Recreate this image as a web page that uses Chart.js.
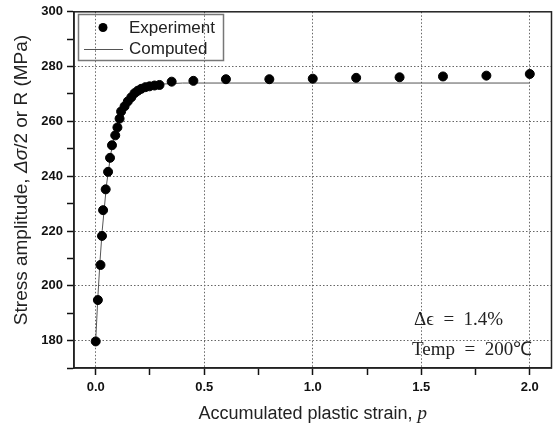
<!DOCTYPE html>
<html><head><meta charset="utf-8">
<script src="https://cdn.jsdelivr.net/npm/chart.js@4"></script>
<style>html,body{margin:0;padding:0;background:#fff}#wrap{width:557px;height:427px}</style>
</head><body><div id="wrap"><canvas id="c" width="557" height="427"></canvas></div>
<script>
// Experiment: accumulated plastic strain p vs stress amplitude (MPa)
const expP = [0.0, 0.01, 0.022, 0.029, 0.034, 0.046, 0.057, 0.066, 0.075, 0.09, 0.10, 0.11, 0.117, 0.133, 0.148, 0.164, 0.179, 0.194, 0.21, 0.229, 0.248, 0.271, 0.294, 0.35, 0.45, 0.6, 0.8, 1.0, 1.2, 1.4, 1.6, 1.8, 2.0];
const expS = [179.7, 194.8, 207.6, 218.2, 227.6, 235.2, 241.6, 246.7, 251.3, 254.9, 257.8, 261.0, 263.6, 265.5, 267.3, 268.8, 270.3, 271.2, 271.9, 272.5, 272.8, 273.1, 273.3, 274.5, 274.8, 275.4, 275.4, 275.6, 275.9, 276.1, 276.4, 276.7, 277.3];
// Computed curve (R)
const compP = [0.0, 0.01, 0.02, 0.03, 0.05, 0.07, 0.10, 0.13, 0.16, 0.20, 0.25, 0.30, 0.40, 0.60, 1.0, 1.5, 2.0];
const compS = [180.0, 196.0, 209.2, 220.2, 237.0, 248.4, 259.4, 265.6, 269.2, 271.7, 273.1, 273.6, 274.0, 274.0, 274.0, 274.0, 274.0];
// Tick values
const xTicks = [0, 0.25, 0.5, 0.75, 1.0, 1.25, 1.5, 1.75, 2.0];
const xLabels = ['0.0', '', '0.5', '', '1.0', '', '1.5', '', '2.0'];
const yTicks = [170, 180, 190, 200, 210, 220, 230, 240, 250, 260, 270, 280, 290, 300];
const yLabels = ['', '180', '', '200', '', '220', '', '240', '', '260', '', '280', '', '300'];
const seriesNames = ['Experiment', 'Computed'];
const notes = ['\u0394\u03f5  =  1.4%', 'Temp  =  200\u2103'];

const expData = expP.map((p, i) => ({x: p, y: expS[i]}));
const compData = compP.map((p, i) => ({x: p, y: compS[i]}));

const SANS = '"Liberation Sans", Arial, sans-serif';
const SERIF = '"Liberation Serif", "Times New Roman", serif';

const extras = {
  id: 'extras',
  afterDraw(chart) {
    const ctx = chart.ctx, a = chart.chartArea;
    ctx.save();
    // frame
    ctx.strokeStyle = '#222'; ctx.lineWidth = 1.5;
    ctx.strokeRect(a.left, a.top, a.right - a.left, a.bottom - a.top);
    // legend
    ctx.strokeStyle = '#777'; ctx.lineWidth = 1.5;
    ctx.strokeRect(78.5, 14.5, 145, 46);
    ctx.fillStyle = '#000';
    ctx.beginPath(); ctx.arc(103, 27.5, 4.5, 0, Math.PI * 2); ctx.fill();
    ctx.strokeStyle = '#555'; ctx.lineWidth = 1;
    ctx.beginPath(); ctx.moveTo(84, 49.5); ctx.lineTo(123, 49.5); ctx.stroke();
    ctx.fillStyle = '#222'; ctx.font = '17px ' + SANS;
    ctx.textBaseline = 'middle'; ctx.textAlign = 'left';
    ctx.fillText(seriesNames[0], 129, 28);
    ctx.fillText(seriesNames[1], 129, 49);
    // annotations
    ctx.font = '19px ' + SERIF;
    ctx.textBaseline = 'alphabetic';
    ctx.fillText(notes[0], 414, 325);
    ctx.fillText(notes[1], 412, 355);
    // x title
    const xt1 = 'Accumulated plastic strain, ';
    ctx.font = '18px ' + SANS;
    const w1 = ctx.measureText(xt1).width;
    ctx.font = 'italic 19px ' + SERIF;
    const w2 = ctx.measureText('p').width;
    let x0 = (a.left + a.right) / 2 - (w1 + w2) / 2;
    ctx.font = '18px ' + SANS;
    ctx.fillText(xt1, x0, 419);
    ctx.font = 'italic 19px ' + SERIF;
    ctx.fillText('p', x0 + w1, 419);
    // y title
    const parts = [['Stress amplitude, ', '19px ' + SANS],
                   ['\u0394\u03c3', 'italic 19px ' + SANS],
                   ['/2 or R (MPa)', '19px ' + SANS]];
    let tw = 0;
    parts.forEach(p => { ctx.font = p[1]; tw += ctx.measureText(p[0]).width; });
    ctx.translate(27, 180);
    ctx.rotate(-Math.PI / 2);
    let cx = -tw / 2;
    parts.forEach(p => { ctx.font = p[1]; ctx.fillText(p[0], cx, 0); cx += ctx.measureText(p[0]).width; });
    ctx.restore();
  }
};

new Chart(document.getElementById('c'), {
  type: 'scatter',
  data: {
    datasets: [
      {label: seriesNames[1], data: compData, showLine: true, borderColor: '#555', borderWidth: 1, pointRadius: 0, order: 2},
      {label: seriesNames[0], data: expData, showLine: false, backgroundColor: '#000', borderColor: '#000', pointRadius: 4.5, order: 1}
    ]
  },
  options: {
    responsive: false, animation: false,
    layout: {padding: {top: 10, right: 4, left: 0, bottom: 0}},
    plugins: {legend: {display: false}, tooltip: {enabled: false}},
    scales: {
      x: {
        type: 'linear', min: -0.1, max: 2.1,
        afterBuildTicks: s => { s.ticks = xTicks.map(v => ({value: v})); },
        afterFit: s => { s.height = 59; },
        ticks: {autoSkip: false, maxRotation: 0, padding: 5, color: '#111',
          font: {size: 13, weight: 'bold', family: SANS},
          callback: (v, i) => xLabels[i]},
        grid: {color: c => (c.tick && xLabels[c.index]) ? '#666' : 'rgba(0,0,0,0)', lineWidth: 1,
          tickColor: '#111', tickLength: 7, tickWidth: 1.5, tickBorderDash: []},
        border: {display: true, color: '#222', width: 1.5, dash: [1.5, 2]}
      },
      y: {
        type: 'linear', min: 170, max: 300,
        afterBuildTicks: s => { s.ticks = yTicks.map(v => ({value: v})); },
        afterFit: s => { s.width = 74; },
        ticks: {autoSkip: false, padding: 4, color: '#111',
          font: {size: 13, weight: 'bold', family: SANS},
          callback: (v, i) => yLabels[i]},
        grid: {color: c => (c.tick && yLabels[c.index] && c.tick.value !== 300) ? '#666' : 'rgba(0,0,0,0)', lineWidth: 1,
          tickColor: '#111', tickLength: 7, tickWidth: 1.5, tickBorderDash: []},
        border: {display: true, color: '#222', width: 1.5, dash: [1.5, 2]}
      }
    }
  },
  plugins: [extras]
});
</script></body></html>
